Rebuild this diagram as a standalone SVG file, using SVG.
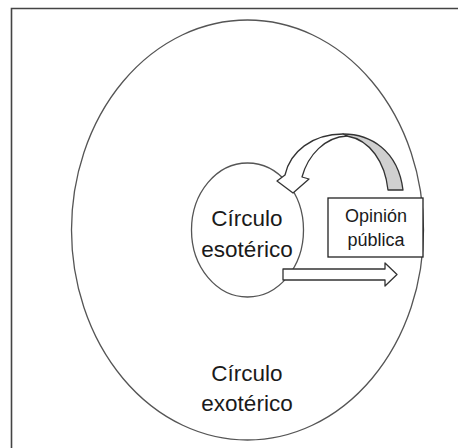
<svg xmlns="http://www.w3.org/2000/svg" width="458" height="448" viewBox="0 0 458 448">
<style>
.lbl{font-family:"Liberation Sans",Arial,sans-serif;fill:#1a1a1a;text-anchor:middle}
.big{font-size:22.5px}
.small{font-size:18px}
.ring{fill:none;stroke:#555;stroke-width:1.3}
.shape{stroke:#333;stroke-width:1.3;stroke-linejoin:round}
</style>
<rect width="458" height="448" fill="#fff"/>
<g id="frame" fill="none" stroke="#444" stroke-width="1.6">
<path d="M11.5,448 V8.5 H458"/>
</g>
<g id="exoteric">
<ellipse class="ring" cx="247.5" cy="230" rx="176" ry="210"/>
<text class="lbl big" x="247" y="381">Círculo</text>
<text class="lbl big" x="247" y="411">exotérico</text>
</g>
<g id="esoteric">
<ellipse class="ring" cx="247.5" cy="230" rx="56" ry="67"/>
<text class="lbl big" x="247" y="226">Círculo</text>
<text class="lbl big" x="247" y="257">esotérico</text>
</g>
<g id="opinion">
<rect x="328" y="198" width="95" height="59" fill="#fff" stroke="#222" stroke-width="1.3"/>
<text class="lbl small" x="376" y="222">Opinión</text>
<text class="lbl small" x="376" y="246">pública</text>
</g>
<g id="connectors">
<path class="shape" fill="#d0d0d0" d="M343,134 C370,134 398,150 403,190 L388,190 C385,162 370,140 347,136 Z"/>
<path class="shape" fill="#fff" d="M343,134 C312,134 290,152 285,175 L277,181 L293,193 L309,179 L302,177 C308,155 325,137 347,136 Z"/>
<path class="shape" fill="#fff" d="M283,269 H385 V263 L397,274.5 L385,286 V280 H283 Z"/>
</g>
</svg>
